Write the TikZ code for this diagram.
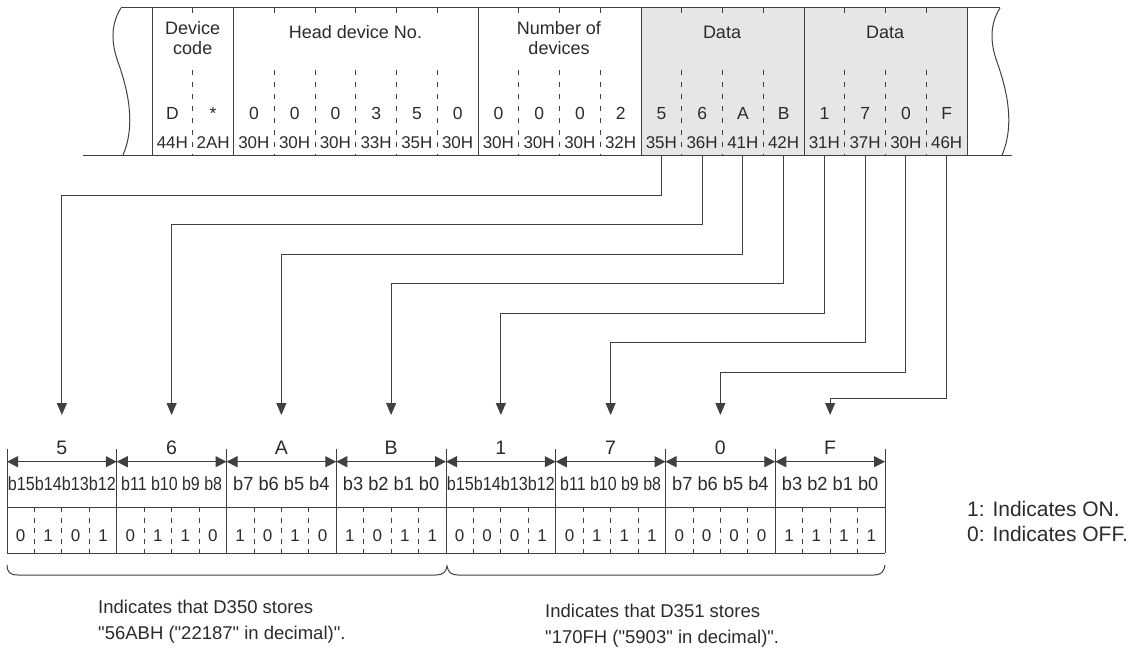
\documentclass[tikz,border=0pt]{standalone}
\usepackage{fontspec}
\setmainfont{Liberation Sans}
\newfontfamily\plainsans{Liberation Sans}
\usetikzlibrary{arrows.meta}
\definecolor{lc}{HTML}{404040}
\definecolor{tc}{HTML}{2B2B2B}
\definecolor{gf}{HTML}{E6E6E6}
\newcommand\fsz[1]{\fontsize{#1}{#1}\selectfont}
\begin{document}
\begin{tikzpicture}[x=1pt,y={(0pt,-1pt)},
  ln/.style={draw=lc,line width=1pt},
  dsh/.style={draw=lc,line width=0.8pt,dash pattern=on 5pt off 7pt},
  dshb/.style={draw=lc,line width=0.8pt,dash pattern=on 5pt off 5.5pt},
  tx/.style={text=tc,inner sep=0pt,anchor=base},
  conn/.style={draw=lc,line width=1pt,-{Triangle[length=12pt,width=10pt]}},
  dimarr/.style={draw=lc,line width=1pt,{Triangle[length=11pt,width=11pt]}-{Triangle[length=11pt,width=11pt]}}]
\useasboundingbox (0,0) rectangle (1139,650);
% ---- top frame ----
\fill[gf] (641,8) rectangle (967,155);
\draw[ln] (121,8) -- (1000,8);
\draw[ln] (83,155) -- (1012,155);
\draw[ln] (121,8) .. controls (112,22) and (110,40) .. (118,62) .. controls (128,90) and (136,125) .. (123,155);
\draw[ln] (1000,8) .. controls (991,22) and (989,40) .. (997,62) .. controls (1007,90) and (1015,125) .. (1002,155);
\foreach \k in {0,2,8,12,16,20} \draw[ln] ({152+40.75*\k},8) -- ({152+40.75*\k},155);
\foreach \k in {1,3,4,5,6,7,9,10,11,13,14,15,17,18,19} {
  \draw[ln,line width=0.8pt] ({152+40.75*\k},8) -- ({152+40.75*\k},13);
  \draw[dsh] ({152+40.75*\k},70) -- ({152+40.75*\k},155);
}
\node[tx,font=\fsz{18}] (hdc1) at (192.75,35) {Device};
\node[tx,font=\fsz{18}] (hdc2) at (192.75,55) {code};
\node[tx,font=\fsz{18}] (hhd) at (355.5,38.3) {Head device No.};
\node[tx,font=\fsz{18}] (hnd1) at (559,35) {Number of};
\node[tx,font=\fsz{18}] (hnd2) at (559,55) {devices};
\node[tx,font=\fsz{18}] (hda1) at (722,38.3) {Data};
\node[tx,font=\fsz{18}] (hda2) at (885,38.3) {Data};
\foreach \c [count=\k from 0] in {D,*,0,0,0,3,5,0,0,0,0,2,5,6,A,B,1,7,0,F}
  \node[tx,font=\fsz{17.5}] (c\k) at ({152+40.75*(\k+0.5)},120) {\c};
\foreach \c [count=\k from 0] in {44H,2AH,30H,30H,30H,33H,35H,30H,30H,30H,30H,32H,35H,36H,41H,42H,31H,37H,30H,46H}
  \node[tx,font=\fsz{17}] (h\k) at ({152+40.75*(\k+0.5)},148.5) {\c};
% ---- connectors ----
\foreach \j/\lev in {0/195,1/224.5,2/254,3/283.5,4/313,5/342.5,6/372,7/398} {
  \coordinate (s\j) at ({152+40.75*(12+\j+0.5)},155);
  \coordinate (m\j) at ({152+40.75*(12+\j+0.5)},\lev);
  \coordinate (t\j) at ({7+109.75*(\j+0.5)},415);
  \draw[conn] (s\j) -- (m\j) -| (t\j);
}
% ---- bit table ----
\foreach \l [count=\j from 0] in {5,6,A,B,1,7,0,F}
  \node[tx,font=\fsz{19.5}] (n\j) at ({7+109.75*(\j+0.5)},454) {\l};
\foreach \i in {0,...,8} {
  \draw[ln] ({7+109.75*\i},449) -- ({7+109.75*\i},553);
  \coordinate (d\i) at ({7+109.75*\i},461.7);
}
\foreach \i [evaluate=\i as \ii using int(\i+1)] in {0,...,7}
  \draw[dimarr] (d\i) -- (d\ii);
\draw[ln] (7,507) -- (885,507);
\draw[ln] (7,553) -- (885,553);
\foreach \t/\s [count=\j from 0] in {b15b14b13b12/0.85,b11 b10 b9 b8/0.84,b7 b6 b5 b4/0.96,b3 b2 b1 b0/0.96,b15b14b13b12/0.85,b11 b10 b9 b8/0.84,b7 b6 b5 b4/0.96,b3 b2 b1 b0/0.96}
  \node[tx,font=\fsz{19}] (bl\j) at ({7+109.75*(\j+0.5)},490) {\scalebox{\s}[1]{\t}};
\foreach \b [count=\m from 0] in {0,1,0,1,0,1,1,0,1,0,1,0,1,0,1,1,0,0,0,1,0,1,1,1,0,0,0,0,1,1,1,1}
  \node[tx,font=\fsz{17}] (bit\m) at ({7+27.4375*(\m+0.5)},541.7) {\b};
\foreach \m in {1,2,3,5,6,7,9,10,11,13,14,15,17,18,19,21,22,23,25,26,27,29,30,31}
  \draw[dshb] ({7+27.4375*\m},507) -- ({7+27.4375*\m},553);
% ---- braces ----
\draw[ln] (7,565) .. controls (7,572) and (10,575) .. (18,575) -- (436,575) .. controls (443,575) and (446,572) .. (447,566) .. controls (448,572) and (451,575) .. (458,575) -- (874,575) .. controls (881,575) and (884,572) .. (885,565);
\node[tx,anchor=base west,font=\plainsans\fsz{18.5}] (ta1) at (98,613) {Indicates that D350 stores};
\node[tx,anchor=base west,font=\plainsans\fsz{18.5}] (ta2) at (98,639) {"56ABH ("22187" in decimal)".};
\node[tx,anchor=base west,font=\plainsans\fsz{18.5}] (tb1) at (545,617) {Indicates that D351 stores};
\node[tx,anchor=base west,font=\plainsans\fsz{18.5}] (tb2) at (545,643) {"170FH ("5903" in decimal)".};
% ---- legend ----
\node[tx,anchor=base west,font=\fsz{21}] (lg1) at (967,516) {1: Indicates ON.};
\node[tx,anchor=base west,font=\fsz{21}] (lg2) at (967,541.7) {0: Indicates OFF.};
\end{tikzpicture}
\end{document}
